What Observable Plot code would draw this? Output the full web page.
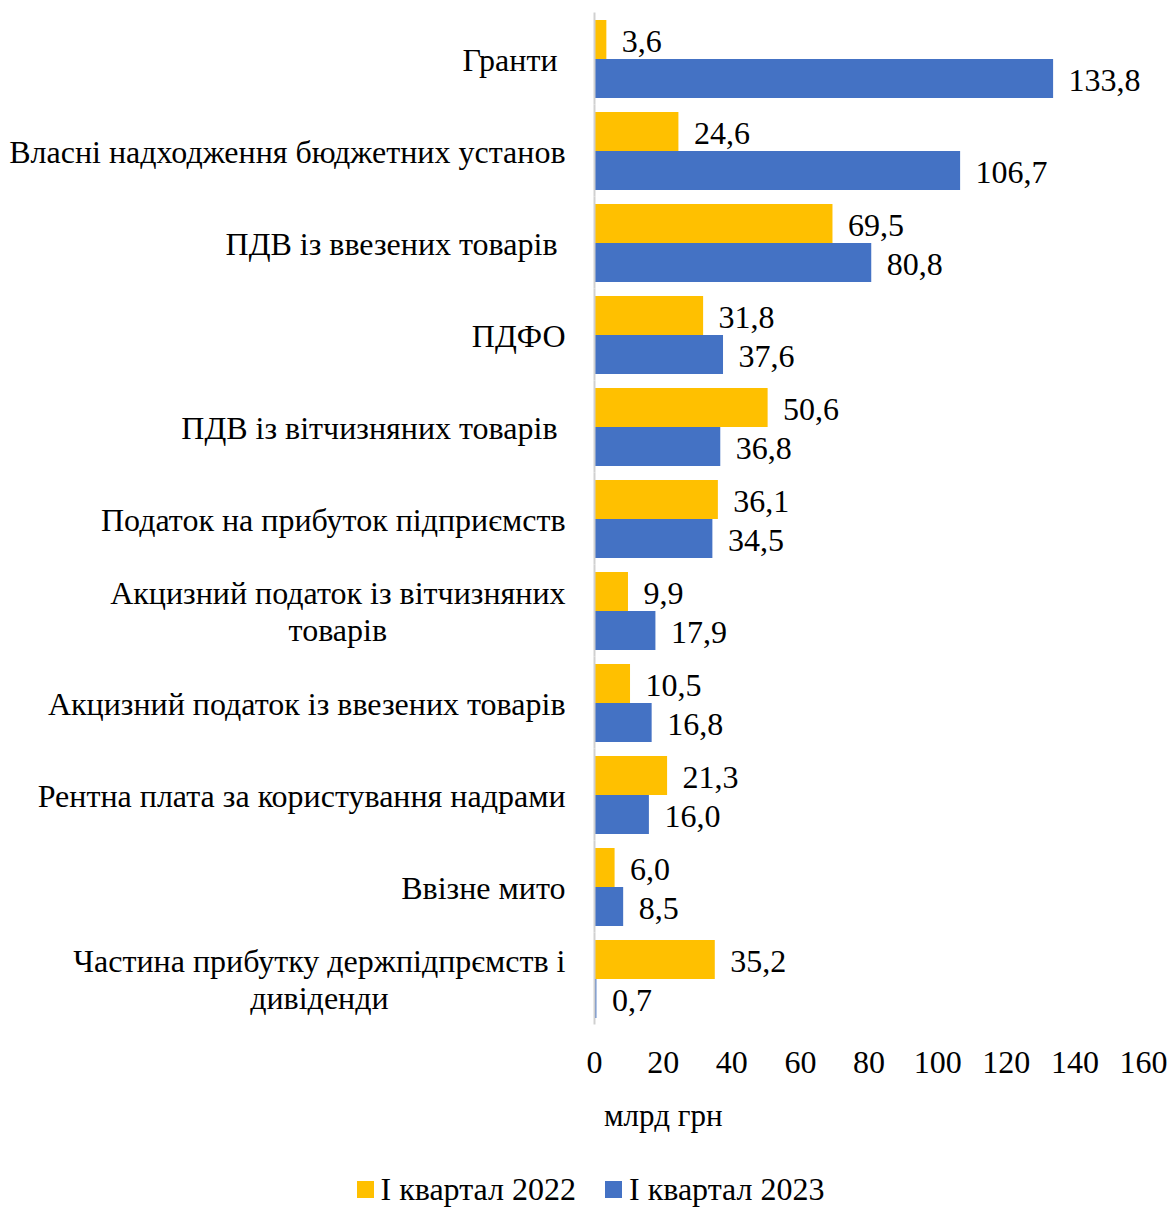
<!DOCTYPE html>
<html>
<head>
<meta charset="utf-8">
<script src="https://cdn.jsdelivr.net/npm/d3@7"></script>
<script src="https://cdn.jsdelivr.net/npm/@observablehq/plot@0.6"></script>
<style>
  body { margin: 0; background: #fff; font-family: "Liberation Serif", "Times New Roman", serif; }
  #chart svg text { white-space: pre; }
  .unit { font-size: 31px; padding-left: 604px; margin-top: 18px; line-height: 34px; color: #000; }
  .legend { display: flex; justify-content: center; align-items: center; gap: 29px; font-size: 32px; margin-top: 38px; padding-left: 8px; line-height: 36px; }
  .legend .item { display: flex; align-items: center; gap: 7px; }
  .legend .sw { width: 17px; height: 17px; display: inline-block; }
</style>
</head>
<body>
<div id="chart"></div>
<script>
const categories = [
  "Гранти ",
  "Власні надходження бюджетних установ",
  "ПДВ із ввезених товарів ",
  "ПДФО",
  "ПДВ із вітчизняних товарів ",
  "Податок на прибуток підприємств",
  "Акцизний податок із вітчизняних\nтоварів",
  "Акцизний податок із ввезених товарів",
  "Рентна плата за користування надрами",
  "Ввізне мито",
  "Частина прибутку держпідпрємств і\nдивіденди"
];
const series = ["І квартал 2022", "І квартал 2023"];
const values2022 = [3.6, 24.6, 69.5, 31.8, 50.6, 36.1, 9.9, 10.5, 21.3, 6.0, 35.2];
const values2023 = [133.8, 106.7, 80.8, 37.6, 36.8, 34.5, 17.9, 16.8, 16.0, 8.5, 0.7];
const xTicks = [0, 20, 40, 60, 80, 100, 120, 140, 160];
const colors = ["#FFC000", "#4472C4"];
const unitLabel = "млрд грн";

const data = [];
categories.forEach((c, i) => {
  data.push({category: c, series: series[0], value: values2022[i]});
  data.push({category: c, series: series[1], value: values2023[i]});
});
const fmt = v => d3.format(".1f")(v).replace(".", ",");

const plot = Plot.plot({
  width: 1173,
  height: 1081,
  marginLeft: 594,
  marginRight: 30,
  marginTop: 12,
  marginBottom: 56,
  style: {fontFamily: "'Liberation Serif', 'Times New Roman', serif", fontSize: "32px", color: "#000", background: "#fff"},
  fy: {domain: categories, paddingInner: 0.14, paddingOuter: 0.07, axis: null},
  y: {domain: series, padding: 0, axis: null},
  x: {domain: [0, 160], ticks: xTicks, tickSize: 0, tickPadding: 32, label: null, tickFormat: d => String(d)},
  color: {domain: series, range: colors},
  marks: [
    Plot.axisFy({anchor: "left", tickSize: 0, tickPadding: 29, label: null, fontSize: 32, lineHeight: 1.15}),
    Plot.barX(data, {x: "value", y: "series", fy: "category", fill: "series", inset: 0}),
    Plot.ruleX([0], {stroke: "#d0d0d0", strokeWidth: 2, insetTop: -6.5, insetBottom: -6.5}),
    Plot.text(data, {x: "value", y: "series", fy: "category", text: d => fmt(d.value), textAnchor: "start", dx: 15, dy: 2, fontSize: 32, fill: "#000"})
  ]
});
document.getElementById("chart").appendChild(plot);

// Center multi-line category labels, as in the original
plot.querySelectorAll("g[aria-label='fy-axis tick label'] text").forEach(t => {
  const spans = t.querySelectorAll("tspan");
  if (spans.length > 1) {
    let w = 0;
    spans.forEach(s => { w = Math.max(w, s.getComputedTextLength()); });
    t.setAttribute("text-anchor", "middle");
    spans.forEach(s => {
      const x0 = +(s.getAttribute("x") || 0);
      s.setAttribute("x", x0 - w / 2);
    });
  }
});

const unit = document.createElement("div");
unit.className = "unit";
unit.textContent = unitLabel;
document.body.appendChild(unit);

const legend = document.createElement("div");
legend.className = "legend";
series.forEach((s, i) => {
  const item = document.createElement("div");
  item.className = "item";
  const sw = document.createElement("span");
  sw.className = "sw";
  sw.style.background = colors[i];
  const lab = document.createElement("span");
  lab.textContent = s;
  item.appendChild(sw);
  item.appendChild(lab);
  legend.appendChild(item);
});
document.body.appendChild(legend);
</script>
</body>
</html>
